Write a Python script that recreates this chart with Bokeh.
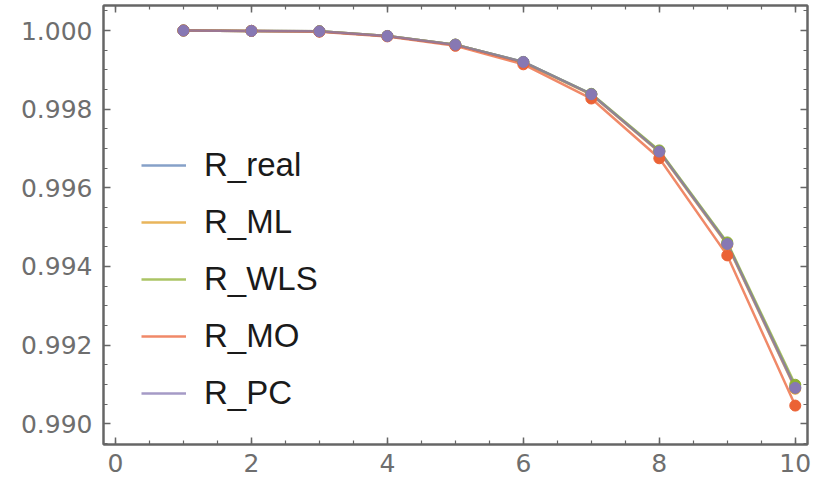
from bokeh.plotting import figure
from bokeh.models import (LinearAxis, SingleIntervalTicker, PrintfTickFormatter,
                          CustomJSTickFormatter, Legend, LegendItem, Range1d)
from bokeh.embed import file_html
from bokeh.resources import INLINE

x = [1, 2, 3, 4, 5, 6, 7, 8, 9, 10]
R_real = [1.00000, 0.99999, 0.99998, 0.99986, 0.99964, 0.99920, 0.99838, 0.99693, 0.99458, 0.99093]
R_ML   = [1.00000, 0.99999, 0.99998, 0.99986, 0.99964, 0.99919, 0.99837, 0.99691, 0.99455, 0.99089]
R_WLS  = [1.00000, 0.99999, 0.99998, 0.99986, 0.99964, 0.99920, 0.99839, 0.99695, 0.99461, 0.99099]
R_MO   = [1.00000, 0.99999, 0.99997, 0.99985, 0.99961, 0.99914, 0.99827, 0.99675, 0.99428, 0.99046]
R_PC   = [1.00000, 0.99999, 0.99998, 0.99986, 0.99964, 0.99920, 0.99838, 0.99692, 0.99457, 0.99091]

names = ["R_real", "R_ML", "R_WLS", "R_MO", "R_PC"]
series = [R_real, R_ML, R_WLS, R_MO, R_PC]
colors = ["#5E81B5", "#E19C24", "#8FB032", "#EB6235", "#8778B3"]

p = figure(width=814, height=480, output_backend="svg", toolbar_location=None,
           x_range=Range1d(-0.176, 10.18), y_range=Range1d(0.98947, 1.000636),
           min_border_left=103, min_border_right=7, min_border_top=5, min_border_bottom=36)
p.xaxis.visible = False
p.yaxis.visible = False
p.xgrid.visible = False
p.ygrid.visible = False
p.outline_line_color = "#666666"
p.outline_line_width = 2
p.background_fill_color = "white"
p.border_fill_color = "white"

FRAME = "#666666"
LABEL = "#6e6e6e"

def style(ax, labels=True):
    ax.axis_line_color = FRAME
    ax.axis_line_width = 2
    ax.major_tick_in = 7
    ax.major_tick_out = 0
    ax.minor_tick_in = 4
    ax.minor_tick_out = 0
    ax.major_tick_line_color = FRAME
    ax.minor_tick_line_color = FRAME
    ax.major_tick_line_width = 1.5
    ax.minor_tick_line_width = 1.2
    if labels:
        ax.major_label_text_font = "DejaVu Sans"
        ax.major_label_text_font_size = "25px"
        ax.major_label_text_color = LABEL
        ax.major_label_standoff = 10
    else:
        ax.major_label_standoff = 0

xt = lambda: SingleIntervalTicker(interval=2, num_minor_ticks=4)
yt = lambda: SingleIntervalTicker(interval=0.002, num_minor_ticks=4)
blank = lambda: CustomJSTickFormatter(code="return ''")

bx = LinearAxis(ticker=xt()); style(bx); bx.major_label_standoff = 9; p.add_layout(bx, "below")
tx = LinearAxis(ticker=xt(), formatter=blank()); style(tx, False); p.add_layout(tx, "above")
ly = LinearAxis(ticker=yt(), formatter=PrintfTickFormatter(format="%.3f")); style(ly); ly.major_label_standoff = 11; p.add_layout(ly, "left")
ry = LinearAxis(ticker=yt(), formatter=blank()); style(ry, False); p.add_layout(ry, "right")

items = []
for name, ys, c in zip(names, series, colors):
    r = p.line(x, ys, line_color=c, line_width=2.5, line_alpha=0.75)
    items.append(LegendItem(label=name, renderers=[r]))
for name, ys, c in zip(names, series, colors):
    p.scatter(x, ys, size=11, fill_color=c, line_color=c)

legend = Legend(items=items, location=(38, 26), border_line_color=None,
                background_fill_alpha=0, padding=0, margin=0,
                glyph_width=45, glyph_height=50, label_height=50, spacing=7,
                label_standoff=18, label_text_font="Liberation Sans",
                label_text_font_size="33px", label_text_color="#1a1a1a")
p.add_layout(legend, "center")

open("out.html", "w").write(file_html(p, INLINE))
